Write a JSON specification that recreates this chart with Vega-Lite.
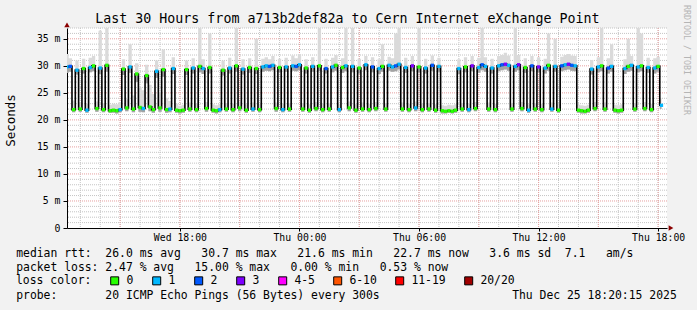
{
"$schema":"https://vega.github.io/schema/vega-lite/v6.json",
"width":600,"height":200,
"autosize":{"type":"none"},
"padding":{"left":67,"top":28,"right":30,"bottom":82},
"background":"#f2f2f2",
"config":{"font":"DejaVu Sans Mono","view":{"fill":"#ffffff","stroke":null}},
"datasets":{
"hourly":[{"t":1766581200000},{"t":1766584800000},{"t":1766588400000},{"t":1766592000000},{"t":1766595600000},{"t":1766599200000},{"t":1766602800000},{"t":1766606400000},{"t":1766610000000},{"t":1766613600000},{"t":1766617200000},{"t":1766620800000},{"t":1766624400000},{"t":1766628000000},{"t":1766631600000},{"t":1766635200000},{"t":1766638800000},{"t":1766642400000},{"t":1766646000000},{"t":1766649600000},{"t":1766653200000},{"t":1766656800000},{"t":1766660400000},{"t":1766664000000},{"t":1766667600000},{"t":1766671200000},{"t":1766674800000},{"t":1766678400000},{"t":1766682000000},{"t":1766685600000}],
"threehourly":[{"t":1766588400000},{"t":1766599200000},{"t":1766610000000},{"t":1766620800000},{"t":1766631600000},{"t":1766642400000},{"t":1766653200000},{"t":1766664000000},{"t":1766674800000},{"t":1766685600000}],
"ms1":[{"v":1},{"v":2},{"v":3},{"v":4},{"v":6},{"v":7},{"v":8},{"v":9},{"v":11},{"v":12},{"v":13},{"v":14},{"v":16},{"v":17},{"v":18},{"v":19},{"v":21},{"v":22},{"v":23},{"v":24},{"v":26},{"v":27},{"v":28},{"v":29},{"v":31},{"v":32},{"v":33},{"v":34},{"v":36},{"v":37}],
"ms5":[{"v":5},{"v":10},{"v":15},{"v":20},{"v":25},{"v":30},{"v":35}],
"ping":[
{"t":"2025-12-24T12:20Z","m":29.8,"l":"1","lo":28.7,"hi":32.2},
{"t":"2025-12-24T12:30Z","m":29.9,"l":"2","lo":28.9,"hi":31.4},
{"t":"2025-12-24T12:40Z","m":21.9,"l":"0","lo":21.4,"hi":23.6},
{"t":"2025-12-24T12:50Z","m":29.2,"l":"1","lo":28.4,"hi":31.0},
{"t":"2025-12-24T13:00Z","m":22.0,"l":"0","lo":21.5,"hi":23.2},
{"t":"2025-12-24T13:10Z","m":29.5,"l":"0","lo":28.6,"hi":31.3},
{"t":"2025-12-24T13:20Z","m":21.8,"l":"1","lo":21.3,"hi":23.0},
{"t":"2025-12-24T13:30Z","m":29.7,"l":"1","lo":28.8,"hi":31.5},
{"t":"2025-12-24T13:40Z","m":30.0,"l":"0","lo":29.0,"hi":31.8},
{"t":"2025-12-24T13:50Z","m":22.1,"l":"0","lo":21.5,"hi":23.4},
{"t":"2025-12-24T14:00Z","m":29.6,"l":"1","lo":28.5,"hi":36.5},
{"t":"2025-12-24T14:10Z","m":21.9,"l":"0","lo":21.4,"hi":23.1},
{"t":"2025-12-24T14:20Z","m":30.1,"l":"0","lo":28.9,"hi":37.0},
{"t":"2025-12-24T14:30Z","m":21.7,"l":"0","lo":21.3,"hi":22.8},
{"t":"2025-12-24T14:40Z","m":21.8,"l":"0","lo":21.3,"hi":23.0},
{"t":"2025-12-24T14:50Z","m":21.7,"l":"0","lo":21.2,"hi":22.9},
{"t":"2025-12-24T15:00Z","m":21.9,"l":"1","lo":21.4,"hi":23.3},
{"t":"2025-12-24T15:10Z","m":29.4,"l":"0","lo":28.3,"hi":31.2},
{"t":"2025-12-24T15:20Z","m":22.2,"l":"0","lo":21.6,"hi":23.8},
{"t":"2025-12-24T15:30Z","m":29.8,"l":"1","lo":28.7,"hi":34.0},
{"t":"2025-12-24T15:40Z","m":22.0,"l":"0","lo":21.4,"hi":24.5},
{"t":"2025-12-24T15:50Z","m":28.5,"l":"0","lo":27.0,"hi":30.5},
{"t":"2025-12-24T16:00Z","m":22.3,"l":"0","lo":21.5,"hi":26.0},
{"t":"2025-12-24T16:10Z","m":22.1,"l":"1","lo":21.4,"hi":25.5},
{"t":"2025-12-24T16:20Z","m":28.2,"l":"0","lo":26.8,"hi":30.2},
{"t":"2025-12-24T16:30Z","m":22.4,"l":"0","lo":21.6,"hi":26.5},
{"t":"2025-12-24T16:40Z","m":21.9,"l":"0","lo":21.3,"hi":24.8},
{"t":"2025-12-24T16:50Z","m":29.0,"l":"1","lo":27.8,"hi":31.0},
{"t":"2025-12-24T17:00Z","m":22.2,"l":"0","lo":21.5,"hi":25.2},
{"t":"2025-12-24T17:10Z","m":29.3,"l":"0","lo":28.0,"hi":33.0},
{"t":"2025-12-24T17:20Z","m":21.9,"l":"0","lo":21.3,"hi":24.0},
{"t":"2025-12-24T17:30Z","m":22.0,"l":"1","lo":21.4,"hi":23.5},
{"t":"2025-12-24T17:40Z","m":29.5,"l":"1","lo":28.5,"hi":31.6},
{"t":"2025-12-24T17:50Z","m":21.8,"l":"0","lo":21.3,"hi":23.0},
{"t":"2025-12-24T18:00Z","m":21.7,"l":"0","lo":21.2,"hi":22.6},
{"t":"2025-12-24T18:10Z","m":21.8,"l":"0","lo":21.3,"hi":22.8},
{"t":"2025-12-24T18:20Z","m":29.3,"l":"0","lo":28.3,"hi":31.0},
{"t":"2025-12-24T18:30Z","m":22.0,"l":"0","lo":21.5,"hi":23.2},
{"t":"2025-12-24T18:40Z","m":29.6,"l":"1","lo":28.6,"hi":31.4},
{"t":"2025-12-24T18:50Z","m":21.9,"l":"0","lo":21.4,"hi":23.0},
{"t":"2025-12-24T19:00Z","m":29.9,"l":"0","lo":28.8,"hi":37.0},
{"t":"2025-12-24T19:10Z","m":29.5,"l":"1","lo":28.5,"hi":31.2},
{"t":"2025-12-24T19:20Z","m":22.1,"l":"0","lo":21.5,"hi":23.3},
{"t":"2025-12-24T19:30Z","m":29.7,"l":"0","lo":28.6,"hi":36.0},
{"t":"2025-12-24T19:40Z","m":21.8,"l":"0","lo":21.3,"hi":22.9},
{"t":"2025-12-24T19:50Z","m":21.7,"l":"0","lo":21.2,"hi":22.7},
{"t":"2025-12-24T20:00Z","m":21.9,"l":"1","lo":21.4,"hi":23.0},
{"t":"2025-12-24T20:10Z","m":29.2,"l":"0","lo":28.2,"hi":31.0},
{"t":"2025-12-24T20:20Z","m":22.0,"l":"0","lo":21.5,"hi":23.1},
{"t":"2025-12-24T20:30Z","m":29.6,"l":"1","lo":28.6,"hi":31.5},
{"t":"2025-12-24T20:40Z","m":21.9,"l":"0","lo":21.4,"hi":23.0},
{"t":"2025-12-24T20:50Z","m":30.0,"l":"0","lo":28.9,"hi":37.0},
{"t":"2025-12-24T21:00Z","m":22.2,"l":"0","lo":21.6,"hi":23.4},
{"t":"2025-12-24T21:10Z","m":29.4,"l":"1","lo":28.4,"hi":31.2},
{"t":"2025-12-24T21:20Z","m":21.8,"l":"0","lo":21.3,"hi":22.9},
{"t":"2025-12-24T21:30Z","m":29.7,"l":"0","lo":28.7,"hi":31.4},
{"t":"2025-12-24T21:40Z","m":22.0,"l":"1","lo":21.5,"hi":23.2},
{"t":"2025-12-24T21:50Z","m":29.5,"l":"0","lo":28.5,"hi":35.0},
{"t":"2025-12-24T22:00Z","m":21.9,"l":"0","lo":21.4,"hi":23.0},
{"t":"2025-12-24T22:10Z","m":29.8,"l":"1","lo":28.9,"hi":31.3},
{"t":"2025-12-24T22:20Z","m":30.0,"l":"1","lo":29.1,"hi":31.6},
{"t":"2025-12-24T22:30Z","m":29.9,"l":"2","lo":29.0,"hi":31.2},
{"t":"2025-12-24T22:40Z","m":30.1,"l":"1","lo":29.2,"hi":31.8},
{"t":"2025-12-24T22:50Z","m":22.1,"l":"0","lo":21.5,"hi":23.2},
{"t":"2025-12-24T23:00Z","m":29.7,"l":"0","lo":28.8,"hi":31.3},
{"t":"2025-12-24T23:10Z","m":21.9,"l":"1","lo":21.4,"hi":23.0},
{"t":"2025-12-24T23:20Z","m":29.8,"l":"1","lo":28.9,"hi":31.5},
{"t":"2025-12-24T23:30Z","m":22.0,"l":"0","lo":21.5,"hi":23.1},
{"t":"2025-12-24T23:40Z","m":30.0,"l":"1","lo":29.1,"hi":31.9},
{"t":"2025-12-24T23:50Z","m":29.9,"l":"2","lo":29.0,"hi":31.4},
{"t":"2025-12-25T00:00Z","m":30.2,"l":"1","lo":29.2,"hi":32.2},
{"t":"2025-12-25T00:10Z","m":22.0,"l":"0","lo":21.5,"hi":23.1},
{"t":"2025-12-25T00:20Z","m":29.6,"l":"0","lo":28.6,"hi":31.2},
{"t":"2025-12-25T00:30Z","m":21.8,"l":"0","lo":21.3,"hi":22.9},
{"t":"2025-12-25T00:40Z","m":29.9,"l":"1","lo":28.9,"hi":31.6},
{"t":"2025-12-25T00:50Z","m":22.1,"l":"0","lo":21.6,"hi":23.3},
{"t":"2025-12-25T01:00Z","m":30.0,"l":"0","lo":29.0,"hi":37.0},
{"t":"2025-12-25T01:10Z","m":21.9,"l":"0","lo":21.4,"hi":23.0},
{"t":"2025-12-25T01:20Z","m":29.5,"l":"2","lo":28.6,"hi":31.3},
{"t":"2025-12-25T01:30Z","m":22.0,"l":"0","lo":21.5,"hi":23.1},
{"t":"2025-12-25T01:40Z","m":29.8,"l":"1","lo":28.8,"hi":31.5},
{"t":"2025-12-25T01:50Z","m":30.1,"l":"0","lo":29.1,"hi":32.0},
{"t":"2025-12-25T02:00Z","m":21.9,"l":"1","lo":21.4,"hi":23.0},
{"t":"2025-12-25T02:10Z","m":29.7,"l":"0","lo":28.7,"hi":31.4},
{"t":"2025-12-25T02:20Z","m":30.0,"l":"1","lo":29.0,"hi":37.0},
{"t":"2025-12-25T02:30Z","m":22.2,"l":"0","lo":21.6,"hi":23.4},
{"t":"2025-12-25T02:40Z","m":29.9,"l":"1","lo":28.8,"hi":37.0},
{"t":"2025-12-25T02:50Z","m":21.8,"l":"0","lo":21.3,"hi":22.9},
{"t":"2025-12-25T03:00Z","m":29.6,"l":"0","lo":28.6,"hi":31.3},
{"t":"2025-12-25T03:10Z","m":22.0,"l":"0","lo":21.5,"hi":23.2},
{"t":"2025-12-25T03:20Z","m":30.2,"l":"1","lo":29.2,"hi":31.8},
{"t":"2025-12-25T03:30Z","m":21.9,"l":"0","lo":21.4,"hi":23.0},
{"t":"2025-12-25T03:40Z","m":29.8,"l":"2","lo":28.8,"hi":31.6},
{"t":"2025-12-25T03:50Z","m":22.1,"l":"0","lo":21.6,"hi":23.3},
{"t":"2025-12-25T04:00Z","m":29.5,"l":"1","lo":28.5,"hi":31.2},
{"t":"2025-12-25T04:10Z","m":29.9,"l":"0","lo":28.9,"hi":34.0},
{"t":"2025-12-25T04:20Z","m":22.0,"l":"0","lo":21.5,"hi":23.1},
{"t":"2025-12-25T04:30Z","m":30.1,"l":"1","lo":29.1,"hi":31.7},
{"t":"2025-12-25T04:40Z","m":29.8,"l":"1","lo":28.9,"hi":31.4},
{"t":"2025-12-25T04:50Z","m":30.0,"l":"2","lo":29.0,"hi":36.0},
{"t":"2025-12-25T05:00Z","m":30.3,"l":"1","lo":29.3,"hi":37.0},
{"t":"2025-12-25T05:10Z","m":22.0,"l":"0","lo":21.5,"hi":23.2},
{"t":"2025-12-25T05:20Z","m":29.7,"l":"1","lo":28.7,"hi":31.5},
{"t":"2025-12-25T05:30Z","m":21.9,"l":"0","lo":21.4,"hi":23.0},
{"t":"2025-12-25T05:40Z","m":30.0,"l":"3","lo":29.0,"hi":31.8},
{"t":"2025-12-25T05:50Z","m":22.2,"l":"1","lo":21.6,"hi":23.4},
{"t":"2025-12-25T06:00Z","m":29.8,"l":"0","lo":28.8,"hi":37.0},
{"t":"2025-12-25T06:10Z","m":21.9,"l":"0","lo":21.4,"hi":23.0},
{"t":"2025-12-25T06:20Z","m":29.6,"l":"1","lo":28.6,"hi":31.3},
{"t":"2025-12-25T06:30Z","m":22.0,"l":"0","lo":21.5,"hi":23.1},
{"t":"2025-12-25T06:40Z","m":30.1,"l":"2","lo":29.1,"hi":31.9},
{"t":"2025-12-25T06:50Z","m":21.8,"l":"0","lo":21.3,"hi":22.9},
{"t":"2025-12-25T07:00Z","m":29.9,"l":"1","lo":28.9,"hi":31.5},
{"t":"2025-12-25T07:10Z","m":21.7,"l":"0","lo":21.2,"hi":22.7},
{"t":"2025-12-25T07:20Z","m":21.6,"l":"0","lo":21.2,"hi":22.6},
{"t":"2025-12-25T07:30Z","m":21.7,"l":"0","lo":21.3,"hi":22.8},
{"t":"2025-12-25T07:40Z","m":21.6,"l":"0","lo":21.2,"hi":22.7},
{"t":"2025-12-25T07:50Z","m":21.8,"l":"0","lo":21.3,"hi":22.9},
{"t":"2025-12-25T08:00Z","m":29.5,"l":"1","lo":28.5,"hi":31.2},
{"t":"2025-12-25T08:10Z","m":22.0,"l":"0","lo":21.5,"hi":23.1},
{"t":"2025-12-25T08:20Z","m":29.8,"l":"0","lo":28.8,"hi":31.6},
{"t":"2025-12-25T08:30Z","m":21.9,"l":"1","lo":21.4,"hi":23.0},
{"t":"2025-12-25T08:40Z","m":30.0,"l":"3","lo":29.0,"hi":31.8},
{"t":"2025-12-25T08:50Z","m":22.1,"l":"0","lo":21.6,"hi":23.3},
{"t":"2025-12-25T09:00Z","m":29.7,"l":"1","lo":28.7,"hi":31.5},
{"t":"2025-12-25T09:10Z","m":30.2,"l":"2","lo":29.2,"hi":37.0},
{"t":"2025-12-25T09:20Z","m":29.9,"l":"1","lo":28.9,"hi":31.6},
{"t":"2025-12-25T09:30Z","m":22.0,"l":"0","lo":21.5,"hi":23.2},
{"t":"2025-12-25T09:40Z","m":29.6,"l":"1","lo":28.6,"hi":31.3},
{"t":"2025-12-25T09:50Z","m":21.9,"l":"0","lo":21.4,"hi":23.0},
{"t":"2025-12-25T10:00Z","m":30.0,"l":"1","lo":29.0,"hi":31.8},
{"t":"2025-12-25T10:10Z","m":30.2,"l":"2","lo":29.2,"hi":32.0},
{"t":"2025-12-25T10:20Z","m":30.3,"l":"3","lo":29.3,"hi":32.4},
{"t":"2025-12-25T10:30Z","m":30.1,"l":"1","lo":29.1,"hi":31.9},
{"t":"2025-12-25T10:40Z","m":22.0,"l":"0","lo":21.5,"hi":23.1},
{"t":"2025-12-25T10:50Z","m":29.9,"l":"1","lo":28.9,"hi":37.0},
{"t":"2025-12-25T11:00Z","m":30.2,"l":"3","lo":29.2,"hi":32.0},
{"t":"2025-12-25T11:10Z","m":22.1,"l":"0","lo":21.6,"hi":23.3},
{"t":"2025-12-25T11:20Z","m":29.7,"l":"0","lo":28.7,"hi":31.4},
{"t":"2025-12-25T11:30Z","m":21.8,"l":"1","lo":21.3,"hi":22.9},
{"t":"2025-12-25T11:40Z","m":30.0,"l":"2","lo":29.0,"hi":31.8},
{"t":"2025-12-25T11:50Z","m":22.0,"l":"0","lo":21.5,"hi":23.1},
{"t":"2025-12-25T12:00Z","m":29.8,"l":"3","lo":28.8,"hi":31.6},
{"t":"2025-12-25T12:10Z","m":21.9,"l":"0","lo":21.4,"hi":23.0},
{"t":"2025-12-25T12:20Z","m":29.6,"l":"1","lo":28.6,"hi":31.3},
{"t":"2025-12-25T12:30Z","m":30.1,"l":"0","lo":29.1,"hi":36.0},
{"t":"2025-12-25T12:40Z","m":22.0,"l":"1","lo":21.5,"hi":23.2},
{"t":"2025-12-25T12:50Z","m":29.9,"l":"1","lo":28.9,"hi":35.0},
{"t":"2025-12-25T13:00Z","m":21.8,"l":"0","lo":21.3,"hi":22.9},
{"t":"2025-12-25T13:10Z","m":30.0,"l":"2","lo":29.0,"hi":31.7},
{"t":"2025-12-25T13:20Z","m":30.2,"l":"1","lo":29.2,"hi":32.0},
{"t":"2025-12-25T13:30Z","m":30.3,"l":"3","lo":29.3,"hi":32.2},
{"t":"2025-12-25T13:40Z","m":30.1,"l":"2","lo":29.1,"hi":31.9},
{"t":"2025-12-25T13:50Z","m":30.0,"l":"1","lo":29.0,"hi":31.8},
{"t":"2025-12-25T14:00Z","m":21.8,"l":"0","lo":21.3,"hi":22.8},
{"t":"2025-12-25T14:10Z","m":21.7,"l":"0","lo":21.2,"hi":22.7},
{"t":"2025-12-25T14:20Z","m":21.6,"l":"0","lo":21.2,"hi":22.6},
{"t":"2025-12-25T14:30Z","m":21.8,"l":"0","lo":21.3,"hi":22.8},
{"t":"2025-12-25T14:40Z","m":29.4,"l":"1","lo":28.4,"hi":31.1},
{"t":"2025-12-25T14:50Z","m":22.1,"l":"0","lo":21.6,"hi":23.3},
{"t":"2025-12-25T15:00Z","m":29.8,"l":"1","lo":28.8,"hi":31.6},
{"t":"2025-12-25T15:10Z","m":30.0,"l":"0","lo":29.0,"hi":37.0},
{"t":"2025-12-25T15:20Z","m":22.0,"l":"0","lo":21.5,"hi":23.2},
{"t":"2025-12-25T15:30Z","m":29.6,"l":"2","lo":28.6,"hi":31.4},
{"t":"2025-12-25T15:40Z","m":29.9,"l":"1","lo":28.9,"hi":34.0},
{"t":"2025-12-25T15:50Z","m":21.8,"l":"0","lo":21.3,"hi":22.8},
{"t":"2025-12-25T16:00Z","m":21.7,"l":"0","lo":21.2,"hi":22.7},
{"t":"2025-12-25T16:10Z","m":21.8,"l":"0","lo":21.3,"hi":22.9},
{"t":"2025-12-25T16:20Z","m":29.5,"l":"1","lo":28.5,"hi":31.2},
{"t":"2025-12-25T16:30Z","m":29.9,"l":"0","lo":28.9,"hi":35.0},
{"t":"2025-12-25T16:40Z","m":30.1,"l":"1","lo":29.1,"hi":31.8},
{"t":"2025-12-25T16:50Z","m":22.0,"l":"0","lo":21.5,"hi":23.1},
{"t":"2025-12-25T17:00Z","m":29.8,"l":"1","lo":28.8,"hi":37.0},
{"t":"2025-12-25T17:10Z","m":30.0,"l":"0","lo":29.0,"hi":36.0},
{"t":"2025-12-25T17:20Z","m":22.1,"l":"0","lo":21.6,"hi":23.3},
{"t":"2025-12-25T17:30Z","m":29.7,"l":"1","lo":28.7,"hi":31.5},
{"t":"2025-12-25T17:40Z","m":21.9,"l":"0","lo":21.4,"hi":23.0},
{"t":"2025-12-25T17:50Z","m":29.6,"l":"1","lo":28.6,"hi":31.4},
{"t":"2025-12-25T18:00Z","m":29.9,"l":"0","lo":28.9,"hi":31.7},
{"t":"2025-12-25T18:10Z","m":22.7,"l":"1","lo":22.0,"hi":24.0}
]},
"layer":[
{"data":{"values":[{}]},
 "mark":{"type":"point","shape":"triangle-up","filled":true,"size":30,"color":"#8b0000","opacity":1},
 "encoding":{
  "x":{"datum":1766578800000,"type":"temporal",
   "scale":{"type":"utc","domain":[1766578800000,1766687200000]},
   "axis":{"title":null,"grid":false,
    "values":[1766599200000,1766620800000,1766642400000,1766664000000,1766685600000],
    "labelExpr":"utcFormat(datum.value, '%a %H:%M')",
    "labelOverlap":false,"labelFlush":false,"labelFontSize":9.8,"labelColor":"#000","labelPadding":1,
    "tickSize":3,"tickColor":"#000","domainColor":"#000"}},
  "y":{"datum":37.6,"type":"quantitative",
   "scale":{"domain":[0,37],"nice":false,"zero":true},
   "axis":{"title":"Seconds","titleFontSize":12.5,"titleFontWeight":"normal","titleColor":"#000","titleX":-57,"titleY":92,"titleAlign":"center","titleBaseline":"middle","titleAngle":270,
    "values":[0,5,10,15,20,25,30,35],"tickCount":8,"grid":false,
    "labelExpr":"datum.label == '0' ? '0' : datum.label + ' m'",
    "labelOverlap":false,"labelFlush":false,"labelFontSize":9.8,"labelColor":"#000","labelPadding":3,
    "tickSize":4,"tickColor":"#000","domainColor":"#000"}}}},
{"data":{"name":"hourly"},"mark":{"type":"rule","color":"#c4c4c4","strokeDash":[1,1],"strokeWidth":1},
 "encoding":{"x":{"field":"t","type":"temporal"}}},
{"data":{"name":"ms1"},"mark":{"type":"rule","color":"#c4c4c4","strokeDash":[1,1],"strokeWidth":1},
 "encoding":{"y":{"field":"v","type":"quantitative"}}},
{"data":{"name":"threehourly"},"mark":{"type":"rule","color":"#e6a0a0","strokeDash":[1,1],"strokeWidth":1},
 "encoding":{"x":{"field":"t","type":"temporal"}}},
{"data":{"name":"ms5"},"mark":{"type":"rule","color":"#e6a0a0","strokeDash":[1,1],"strokeWidth":1},
 "encoding":{"y":{"field":"v","type":"quantitative"}}},
{"data":{"name":"ping"},
 "mark":{"type":"area","interpolate":"step","color":"#dadada","clip":true},
 "encoding":{"x":{"field":"t","type":"temporal"},"y":{"field":"lo","type":"quantitative"},"y2":{"field":"hi"}}},
{"data":{"name":"ping"},
 "mark":{"type":"area","interpolate":"step","color":"#a3a3a3","clip":true},
 "encoding":{"x":{"field":"t","type":"temporal"},"y":{"field":"lo","type":"quantitative"},"y2":{"field":"m"}}},
{"data":{"name":"ping"},
 "mark":{"type":"line","interpolate":"step","color":"#000000","strokeWidth":1.6,"clip":true},
 "encoding":{"x":{"field":"t","type":"temporal"},"y":{"field":"m","type":"quantitative"}}},
{"data":{"name":"ping"},
 "mark":{"type":"point","shape":"square","filled":true,"size":11,"opacity":1,"clip":true},
 "encoding":{"x":{"field":"t","type":"temporal"},"y":{"field":"m","type":"quantitative"},
  "color":{"field":"l","type":"nominal",
   "scale":{"domain":["0","1","2","3","4-5","6-10","11-19","20/20"],"range":["#26ff00","#00b8ff","#0059ff","#7e00ff","#ff00ff","#ff5500","#ff0000","#a10000"]},
   "legend":{"title":"loss color:","orient":"none","legendX":-51,"legendY":247,"direction":"horizontal","titleOrient":"left",
    "titleFont":"DejaVu Sans Mono","titleFontSize":11.4,"titleFontWeight":"normal","titleColor":"#000","titlePadding":17,
    "labelFont":"DejaVu Sans Mono","labelFontSize":11.4,"labelColor":"#000","labelOffset":6,"columnPadding":16,"padding":0,
    "symbolType":"square","symbolSize":64,"symbolStrokeColor":"#000","symbolStrokeWidth":1,"symbolOpacity":1,
    "encode":{"symbols":{"update":{"stroke":{"value":"#000000"},"strokeWidth":{"value":1}}}}}}}},
{"data":{"values":[{}]},
 "mark":{"type":"point","shape":"triangle-right","filled":true,"size":30,"color":"#8b0000","opacity":1},
 "encoding":{"x":{"datum":1766687920000,"type":"temporal"},"y":{"datum":0,"type":"quantitative"}}},
{"data":{"values":[{}]},
 "mark":{"type":"text","align":"center","baseline":"middle","fontSize":13.3,"color":"#000","text":"Last 30 Hours from a713b2def82a to Cern Internet eXchange Point"},
 "encoding":{"x":{"datum":1766629470000,"type":"temporal"},"y":{"datum":38.67,"type":"quantitative"}}},
{"data":{"values":[{}]},
 "mark":{"type":"text","align":"center","baseline":"middle","angle":90,"fontSize":8.3,"color":"#b5b5b5","text":"RRDTOOL / TOBI OETIKER"},
 "encoding":{"x":{"datum":1766690580000,"type":"temporal"},"y":{"datum":31.08,"type":"quantitative"}}},
{"data":{"values":[{}]},
 "mark":{"type":"text","align":"left","baseline":"middle","fontSize":11.4,"color":"#000","text":"median rtt:\u00a0\u00a026.0 ms avg\u00a0\u00a0\u00a030.7 ms max\u00a0\u00a0\u00a021.6 ms min\u00a0\u00a0\u00a022.7 ms now\u00a0\u00a0\u00a03.6 ms sd\u00a0\u00a07.1\u00a0\u00a0\u00a0am/s"},
 "encoding":{"x":{"datum":1766569620000,"type":"temporal"},"y":{"datum":-4.9,"type":"quantitative"}}},
{"data":{"values":[{}]},
 "mark":{"type":"text","align":"left","baseline":"middle","fontSize":11.4,"color":"#000","text":"packet loss: 2.47 % avg\u00a0\u00a0\u00a015.00 % max\u00a0\u00a0\u00a00.00 % min\u00a0\u00a0\u00a00.53 % now"},
 "encoding":{"x":{"datum":1766569620000,"type":"temporal"},"y":{"datum":-7.4,"type":"quantitative"}}},
{"data":{"values":[{}]},
 "mark":{"type":"text","align":"left","baseline":"middle","fontSize":11.4,"color":"#000","text":"probe:\u00a0\u00a0\u00a0\u00a0\u00a0\u00a0\u00a020 ICMP Echo Pings (56 Bytes) every 300s"},
 "encoding":{"x":{"datum":1766569620000,"type":"temporal"},"y":{"datum":-12.49,"type":"quantitative"}}},
{"data":{"values":[{}]},
 "mark":{"type":"text","align":"right","baseline":"middle","fontSize":11.4,"color":"#000","text":"Thu Dec 25 18:20:15 2025"},
 "encoding":{"x":{"datum":1766688960000,"type":"temporal"},"y":{"datum":-12.49,"type":"quantitative"}}}
],
"resolve":{"scale":{"color":"independent"}}
}
